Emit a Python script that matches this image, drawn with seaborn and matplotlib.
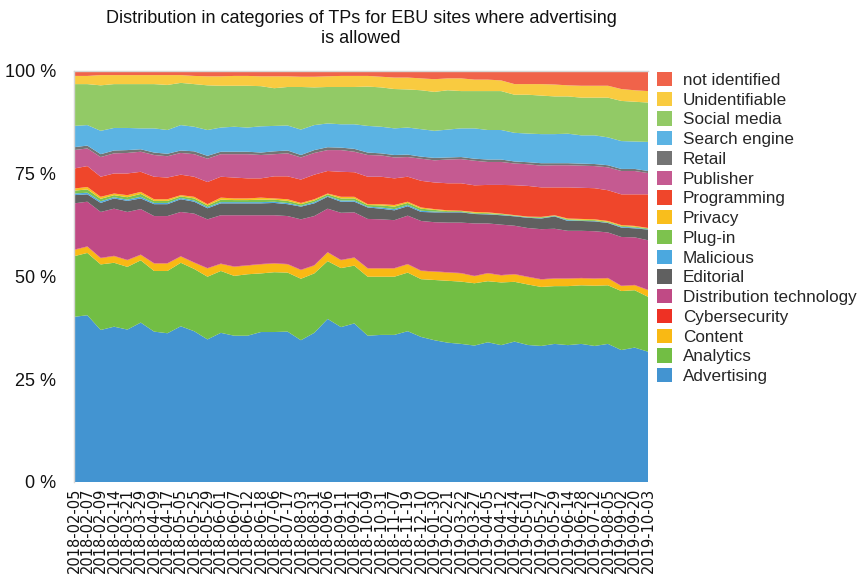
import matplotlib
matplotlib.use("Agg")
import matplotlib.pyplot as plt
import matplotlib.patches as mpatches
import seaborn as sns
import numpy as np

dates = ["2018-02-05", "2018-02-07", "2018-02-09", "2018-02-14", "2018-03-21", "2018-03-29",
         "2018-04-09", "2018-04-17", "2018-05-05", "2018-05-25", "2018-05-29", "2018-06-01",
         "2018-06-07", "2018-06-12", "2018-06-18", "2018-07-06", "2018-07-17", "2018-08-03",
         "2018-08-31", "2018-09-06", "2018-09-11", "2018-09-21", "2018-10-09", "2018-10-31",
         "2018-11-07", "2018-11-19", "2018-12-10", "2019-01-30", "2019-02-21", "2019-03-22",
         "2019-03-27", "2019-04-05", "2019-04-12", "2019-04-24", "2019-05-01", "2019-05-27",
         "2019-05-29", "2019-06-14", "2019-06-28", "2019-07-12", "2019-08-05", "2019-09-02",
         "2019-09-20", "2019-10-03"]

advertising = [40.3, 40.7, 37.1, 37.9, 37.2, 38.9, 36.7, 36.3, 38.0, 36.8,
               34.8, 36.4, 35.7, 35.7, 36.6, 36.6, 36.7, 34.6, 36.4, 39.8,
               37.8, 38.7, 35.7, 35.9, 35.9, 36.8, 35.4, 34.6, 34.0, 33.7,
               33.3, 34.1, 33.4, 34.3, 33.5, 33.2, 33.7, 33.4, 33.7, 33.2,
               33.7, 32.2, 32.8, 31.8]
analytics = [14.8, 15.2, 16.0, 15.6, 15.3, 15.2, 14.8, 15.2, 15.5, 15.2,
             15.3, 15.1, 14.6, 15.0, 14.3, 14.6, 14.4, 15.0, 14.5, 14.1,
             14.4, 14.1, 14.4, 14.2, 14.2, 14.3, 14.1, 14.7, 15.1, 15.2,
             15.2, 14.9, 15.3, 14.6, 14.8, 14.4, 14.1, 14.4, 14.3, 14.7,
             14.3, 14.4, 14.0, 13.4]
content = [1.5, 1.5, 1.5, 1.6, 1.6, 1.3, 1.8, 1.8, 1.5, 1.5,
           2.0, 1.7, 2.2, 2.1, 2.2, 2.1, 2.0, 2.1, 1.9, 2.1,
           1.9, 1.9, 2.0, 2.0, 2.0, 2.0, 2.0, 2.0, 2.0, 2.0,
           1.7, 1.9, 1.7, 1.8, 1.8, 1.8, 1.8, 1.8, 1.7, 1.7,
           1.7, 1.2, 1.2, 1.6]
cybersecurity = [0.1, 0.1, 0.1, 0.1, 0.1, 0.1, 0.1, 0.1, 0.1, 0.1,
                 0.1, 0.1, 0.1, 0.1, 0.1, 0.1, 0.1, 0.1, 0.1, 0.1,
                 0.1, 0.1, 0.1, 0.1, 0.1, 0.1, 0.1, 0.1, 0.1, 0.1,
                 0.1, 0.1, 0.1, 0.1, 0.1, 0.1, 0.1, 0.1, 0.1, 0.1,
                 0.1, 0.1, 0.1, 0.1]
distribution = [11.3, 10.9, 11.2, 11.5, 11.7, 11.1, 11.5, 11.5, 10.8, 11.9,
                11.9, 11.8, 12.5, 12.2, 11.9, 11.7, 11.7, 12.3, 12.0, 10.6,
                11.5, 11.0, 12.0, 11.9, 11.7, 11.8, 12.1, 12.0, 12.1, 12.3,
                12.8, 12.1, 12.3, 11.8, 11.9, 12.2, 12.1, 11.6, 11.5, 11.5,
                11.1, 11.9, 11.6, 12.1]
editorial = [2.0, 1.8, 2.2, 2.5, 2.7, 2.6, 2.9, 2.9, 3.1, 2.9,
             2.7, 2.9, 2.9, 2.9, 2.9, 3.0, 2.9, 3.1, 3.1, 2.9,
             2.7, 2.6, 2.8, 2.6, 2.4, 2.3, 2.2, 2.4, 2.5, 2.5,
             2.3, 2.2, 2.3, 2.3, 2.5, 2.6, 3.0, 2.4, 2.4, 2.4,
             2.3, 2.3, 2.2, 2.6]
malicious = [0.4, 0.4, 0.4, 0.3, 0.3, 0.4, 0.3, 0.3, 0.3, 0.3,
             0.3, 0.3, 0.3, 0.3, 0.3, 0.3, 0.3, 0.2, 0.3, 0.2,
             0.3, 0.3, 0.2, 0.3, 0.3, 0.3, 0.3, 0.2, 0.1, 0.1,
             0.1, 0.1, 0.1, 0.1, 0.1, 0.1, 0.1, 0.2, 0.1, 0.1,
             0.1, 0.2, 0.2, 0.1]
plugin = [0.7, 0.8, 0.6, 0.5, 0.6, 0.7, 0.5, 0.5, 0.4, 0.5,
          0.4, 0.6, 0.5, 0.5, 0.6, 0.5, 0.5, 0.4, 0.4, 0.4,
          0.5, 0.5, 0.4, 0.5, 0.6, 0.5, 0.5, 0.4, 0.2, 0.2,
          0.2, 0.2, 0.2, 0.1, 0.1, 0.2, 0.1, 0.2, 0.2, 0.2,
          0.2, 0.2, 0.2, 0.2]
privacy = [0.5, 0.6, 0.5, 0.4, 0.5, 0.5, 0.4, 0.4, 0.3, 0.4,
           0.3, 0.5, 0.4, 0.4, 0.5, 0.3, 0.4, 0.3, 0.3, 0.2,
           0.4, 0.4, 0.2, 0.3, 0.4, 0.3, 0.3, 0.2, 0.2, 0.1,
           0.2, 0.2, 0.1, 0.1, 0.1, 0.1, 0.1, 0.2, 0.2, 0.2,
           0.2, 0.2, 0.2, 0.1]
programming = [4.9, 5.1, 4.9, 4.9, 5.3, 4.9, 5.5, 5.3, 5.0, 4.9,
               5.4, 5.1, 5.1, 4.9, 4.7, 5.4, 5.6, 5.7, 6.0, 5.5,
               6.1, 6.0, 6.7, 6.7, 6.5, 6.1, 6.5, 6.5, 6.6, 6.7,
               6.5, 6.7, 7.0, 7.3, 7.5, 7.2, 6.8, 7.6, 7.6, 7.6,
               7.5, 7.5, 7.7, 8.2]
publisher = [4.5, 4.3, 4.8, 4.9, 5.0, 4.9, 5.3, 5.2, 5.3, 5.5,
             5.7, 5.5, 5.7, 5.9, 5.7, 5.4, 5.6, 5.4, 5.3, 5.1,
             5.3, 5.0, 5.3, 5.2, 5.1, 4.8, 5.4, 5.4, 5.8, 5.9,
             6.0, 5.6, 5.6, 5.3, 5.3, 5.3, 5.4, 5.4, 5.4, 5.4,
             5.6, 5.7, 5.7, 5.2]
retail = [0.7, 0.7, 0.7, 0.7, 0.7, 0.6, 0.6, 0.6, 0.6, 0.7,
          0.7, 0.6, 0.6, 0.6, 0.6, 0.7, 0.7, 0.6, 0.7, 0.7,
          0.6, 0.7, 0.6, 0.5, 0.6, 0.6, 0.5, 0.6, 0.5, 0.5,
          0.5, 0.6, 0.6, 0.5, 0.5, 0.6, 0.5, 0.5, 0.5, 0.5,
          0.5, 0.5, 0.5, 0.5]
search_engine = [5.2, 5.0, 5.7, 5.5, 5.4, 5.1, 5.9, 5.8, 6.2, 6.0,
                 6.3, 5.9, 6.1, 5.9, 6.4, 6.2, 6.1, 6.2, 6.1, 5.8,
                 5.7, 6.0, 6.5, 6.5, 6.5, 6.6, 6.7, 6.6, 6.8, 7.0,
                 7.4, 7.2, 7.2, 7.0, 7.0, 7.1, 7.1, 7.2, 6.9, 7.0,
                 6.8, 6.8, 6.7, 7.1]
social_media = [10.2, 10.0, 11.1, 10.7, 10.7, 10.8, 10.8, 11.0, 10.3, 10.4,
                10.9, 10.2, 10.0, 10.2, 9.8, 9.2, 9.4, 10.4, 9.2, 8.9,
                9.1, 9.1, 9.6, 9.6, 9.6, 9.3, 9.5, 9.5, 9.6, 9.1,
                9.1, 9.5, 9.5, 9.3, 9.5, 9.4, 9.2, 9.1, 9.2, 9.2,
                9.7, 9.8, 9.7, 9.6]
unidentifiable = [2.0, 2.0, 2.5, 2.2, 2.2, 2.2, 2.2, 2.4, 1.9, 2.0,
                  2.2, 2.3, 2.4, 2.4, 2.4, 2.9, 2.6, 2.5, 2.6, 2.6,
                  2.7, 2.7, 2.6, 2.6, 2.8, 2.9, 2.9, 3.1, 2.9, 3.1,
                  2.8, 2.8, 2.6, 2.6, 2.6, 2.8, 2.9, 2.7, 2.9, 2.9,
                  2.9, 2.9, 2.8, 2.8]
not_identified = [1.2, 1.2, 1.0, 1.0, 1.0, 1.0, 1.0, 1.0, 1.0, 1.2,
                  1.3, 1.3, 1.2, 1.2, 1.3, 1.3, 1.3, 1.4, 1.4, 1.3,
                  1.2, 1.2, 1.2, 1.4, 1.6, 1.6, 1.8, 2.0, 1.8, 1.8,
                  2.1, 2.1, 2.3, 3.2, 3.2, 3.2, 3.3, 3.5, 3.6, 3.6,
                  3.6, 4.4, 4.7, 4.9]

categories = ["Advertising", "Analytics", "Content", "Cybersecurity",
              "Distribution technology", "Editorial", "Malicious", "Plug-in",
              "Privacy", "Programming", "Publisher", "Retail", "Search engine",
              "Social media", "Unidentifiable", "not identified"]
series = [advertising, analytics, content, cybersecurity, distribution, editorial,
          malicious, plugin, privacy, programming, publisher, retail, search_engine,
          social_media, unidentifiable, not_identified]
colors = ["#4394D1", "#72BE44", "#F9B914", "#EE3124", "#C04A85", "#606060",
          "#4BA8DF", "#7DC24E", "#F9BE1C", "#EF462B", "#C55A91", "#747474",
          "#5BB3E3", "#92CA66", "#F9CB40", "#F0634A"]

sns.set_theme(style="white")
plt.rcParams['font.family'] = ['Liberation Sans', 'DejaVu Sans']

data = np.array(series, dtype=float)
data = data / data.sum(axis=0) * 100.0
x = np.arange(len(dates))

fig = plt.figure(figsize=(8.61, 5.80), dpi=100)
ax = fig.add_axes([74 / 861, 1 - 482 / 580, (648 - 74) / 861, (482 - 71) / 580])
ax.stackplot(x, data, colors=colors, linewidth=0, edgecolor="none", antialiased=True)

ax.set_xlim(0, len(dates) - 1)
ax.set_ylim(0, 100)
ax.set_xticks(x)
ax.set_xticklabels(dates, rotation=90, fontsize=10.5, family=['DejaVu Sans'], color="#111111")
ax.set_yticks([0, 25, 50, 75, 100])
ax.set_yticklabels(["0 %", "25 %", "50 %", "75 %", "100 %"], fontsize=13, color="#111111")
ax.set_yticks([12.5, 37.5, 62.5, 87.5], minor=True)
ax.tick_params(axis="x", length=0, pad=4)
ax.tick_params(axis="y", which="both", length=3, width=0.8, color="#BBBBBB", direction="out", pad=10)

for side in ["right", "bottom"]:
    ax.spines[side].set_visible(False)
for side in ["left", "top"]:
    ax.spines[side].set_color("#D6D6D6")
    ax.spines[side].set_linewidth(1.0)

ax.set_title("Distribution in categories of TPs for EBU sites where advertising\nis allowed",
             fontsize=13, color="#111111", pad=20, linespacing=1.25)

handles = [mpatches.Patch(facecolor=c, edgecolor="none", label=l)
           for c, l in zip(colors[::-1], categories[::-1])]
fig.legend(handles=handles, loc="upper left", bbox_to_anchor=(657 / 861, 1 - 72 / 580),
           frameon=False, fontsize=12.3, handlelength=0.9, handleheight=0.9,
           handletextpad=0.6, labelspacing=0.22, borderaxespad=0, borderpad=0)

fig.savefig("out.png", dpi=100)
